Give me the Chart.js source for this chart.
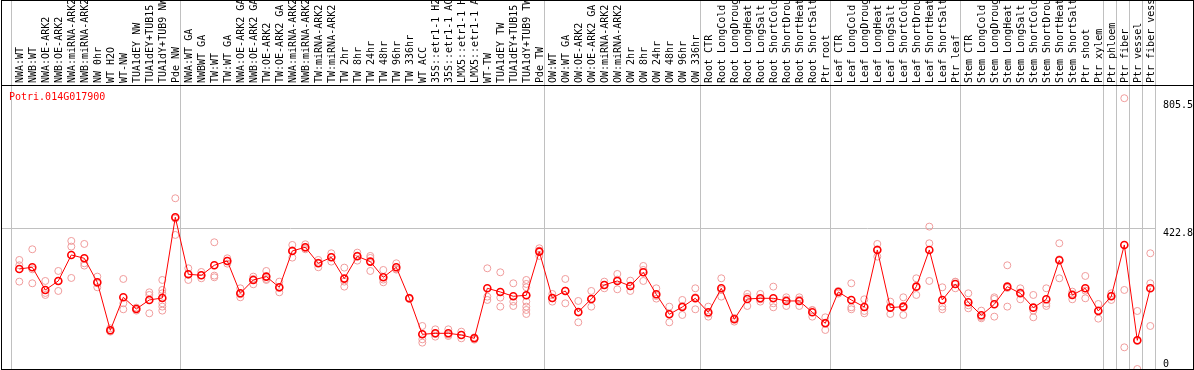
<!DOCTYPE html>
<html>
<head>
<meta charset="utf-8">
<script src="https://cdn.jsdelivr.net/npm/chart.js@4.4.1/dist/chart.umd.min.js"></script>
<style>
  html, body { margin: 0; padding: 0; background: #fff; }
  #box { position: relative; margin-left: 1px; width: 1191px; height: 368px; border: 1px solid #000; }
  #box canvas { display: block; }
  #gene { position: absolute; left: 7px; top: 90px; font: 10px "DejaVu Sans Mono", monospace; line-height: 12px; color: #ff0000; }
</style>
</head>
<body>
<div id="box">
  <canvas id="exprChart" width="1191" height="368"></canvas>
  <div id="gene">Potri.014G017900</div>
</div>
<script>
// Sample names, left to right
const categories = [
  "NWA:WT", "NWB:WT", "NWA:OE-ARK2", "NWB:OE-ARK2", "NWA:miRNA-ARK2", "NWB:miRNA-ARK2",
  "NW 0hr", "WT H2O", "WT-NW", "TUA1dEY NW", "TUA1dEY+TUB15 NW", "TUA1dY+TUB9 NW", "Pde NW",
  "NWA:WT GA", "NWBWT GA", "TW:WT", "TW:WT GA", "NWA:OE-ARK2 GA", "NWB:OE-ARK2 GA",
  "TW:OE-ARK2", "TW:OE-ARK2 GA", "NWA:miRNA-ARK2 GA", "NWB:miRNA-ARK2 GA", "TW:miRNA-ARK2",
  "TW:miRNA-ARK2 GA", "TW 2hr", "TW 8hr", "TW 24hr", "TW 48hr", "TW 96hr", "TW 336hr",
  "WT ACC", "35S::etr1-1 H2O", "35S::etr1-1 ACC", "LMX5::etr1-1 H2O", "LMX5::etr1-1 ACC",
  "WT-TW", "TUA1dEY TW", "TUA1dEY+TUB15 TW", "TUA1dY+TUB9 TW", "Pde TW",
  "OW:WT", "OW:WT GA", "OW:OE-ARK2", "OW:OE-ARK2 GA", "OW:miRNA-ARK2", "OW:miRNA-ARK2 GA",
  "OW 2hr", "OW 8hr", "OW 24hr", "OW 48hr", "OW 96hr", "OW 336hr",
  "Root CTR", "Root LongCold", "Root LongDrought", "Root LongHeat", "Root LongSalt",
  "Root ShortCold", "Root ShortDrought", "Root ShortHeat", "Root ShortSalt", "Ptr root",
  "Leaf CTR", "Leaf LongCold", "Leaf LongDrought", "Leaf LongHeat", "Leaf LongSalt",
  "Leaf ShortCold", "Leaf ShortDrought", "Leaf ShortHeat", "Leaf ShortSalt", "Ptr leaf",
  "Stem CTR", "Stem LongCold", "Stem LongDrought", "Stem LongHeat", "Stem LongSalt",
  "Stem ShortCold", "Stem ShortDrought", "Stem ShortHeat", "Stem ShortSalt", "Ptr shoot",
  "Ptr xylem", "Ptr phloem", "Ptr fiber", "Ptr vessel", "Ptr fiber vessel"
];

// Mean expression per sample
const means = [
  300, 305, 237, 264, 342, 332, 260, 116, 215, 180, 207, 213, 455,
  284, 281, 311, 324, 227, 267, 277, 245, 354, 365, 317, 335, 271, 338, 322, 275, 305, 212,
  104, 107, 107, 102, 92, 242, 231, 218, 221, 352,
  213, 234, 171, 210, 252, 264, 249, 290, 224, 164, 186, 212,
  170, 242, 149, 210, 212, 212, 204, 204, 170, 137,
  231, 207, 186, 357, 184, 187, 247, 357, 207, 255,
  200, 161, 194, 247, 227, 184, 209, 326, 222, 242, 174,
  218, 372, 86, 242
];

// Individual replicates per sample
const replicates = [
  [327, 311, 262], [359, 299, 257], [264, 222, 228], [294, 264, 234], [384, 367, 273],
  [375, 317, 310], [277, 257, 245], [122, 112, 115], [270, 197, 179], [184, 175, 181],
  [230, 222, 167], [267, 237, 227, 197, 187, 175], [512, 451, 402],
  [302, 283, 267], [291, 281, 272], [380, 280, 275], [332, 316, 324], [242, 215, 224],
  [277, 254, 270], [294, 267, 270], [262, 230, 243], [372, 334, 356], [374, 362, 359],
  [327, 305, 319], [347, 322, 336], [304, 247, 262], [349, 325, 340], [339, 294, 333],
  [297, 260, 268], [317, 300, 298], [212, 210, 214],
  [129, 104, 89, 79], [119, 97, 105], [119, 99, 103], [112, 92, 102], [95, 88, 93],
  [302, 217, 207], [290, 214, 187], [257, 202, 189], [267, 255, 245, 221, 202, 187, 177, 165],
  [362, 339, 355],
  [225, 202, 212], [270, 197, 235], [204, 140, 169], [234, 187, 209], [262, 242, 252],
  [285, 239, 268], [265, 234, 248], [309, 264, 297], [242, 211, 219], [187, 140, 165],
  [207, 162, 189], [242, 179, 215],
  [187, 157, 166], [272, 217, 237], [152, 142, 153], [225, 189, 216], [225, 202, 209],
  [247, 197, 185], [215, 189, 208], [215, 189, 208], [177, 157, 176], [155, 117, 139],
  [234, 226, 233], [257, 179, 185], [209, 174, 167], [375, 337, 359], [202, 165, 185],
  [215, 162, 184], [272, 222, 247], [427, 377, 264], [245, 187, 179], [262, 242, 261],
  [227, 182, 191], [175, 152, 156], [215, 157, 210], [311, 187, 243], [242, 209, 230],
  [222, 155, 175], [242, 189, 196], [377, 272, 329], [232, 209, 225], [279, 212, 235],
  [195, 151, 176],
  [227, 207, 220], [812, 237, 65], [174, 84, 0], [347, 257, 129]
];

// First sample index of each group (last entry closes the plot)
const groupStarts = [0, 13, 41, 53, 63, 73, 84, 85, 86, 87, 88];

// Value axis ticks
const yTicks = [0, 422.8, 805.5];
const yTickLabels = ["0", "422.8", "805.5"];

const X_MIN = -1.331;
const X_MAX = 87.438;
const Y_MAX = 851.6;
const SEP_SHIFT = 8 / 13;
const monoFont = { family: "DejaVu Sans Mono", size: 10 };

// no automatic padding around the scales
function noPadding(s) {
  s.paddingLeft = 0;
  s.paddingRight = 0;
  s.paddingTop = 0;
  s.paddingBottom = 0;
}

// keep the "0" label inside the plot bottom
const zeroLabelPlugin = {
  id: "zeroLabel",
  beforeDraw(chart) {
    chart.scales.y.getLabelItems().forEach((item) => {
      if (item.label === "0") item.options.textBaseline = "bottom";
    });
  },
};

function initExpressionChart() {
  const ctx = document.getElementById("exprChart");

  const meanPoints = means.map((v, i) => ({ x: i, y: v }));
  const repPoints = [];
  replicates.forEach((reps, i) => {
    reps.forEach((v) => repPoints.push({ x: i, y: v }));
  });

  new Chart(ctx, {
    data: {
      datasets: [
        {
          type: "line",
          data: meanPoints,
          borderColor: "#ff0000",
          borderWidth: 1,
          tension: 0,
          pointRadius: 3.5,
          pointBorderWidth: 1.6,
          pointBorderColor: "#ff0000",
          pointBackgroundColor: "rgba(0,0,0,0)",
          xAxisID: "x",
          yAxisID: "y",
        },
        {
          type: "scatter",
          data: repPoints,
          pointRadius: 3.5,
          pointBorderWidth: 1,
          pointBorderColor: "#f09c9c",
          pointBackgroundColor: "rgba(0,0,0,0)",
          xAxisID: "x",
          yAxisID: "y",
        },
      ],
    },
    options: {
      responsive: false,
      animation: false,
      devicePixelRatio: 1,
      layout: { padding: 0, autoPadding: false },
      plugins: { legend: { display: false }, tooltip: { enabled: false } },
      scales: {
        x: {
          type: "linear",
          position: "top",
          weight: 2,
          min: X_MIN,
          max: X_MAX,
          afterBuildTicks: (s) => {
            s.ticks = categories.map((c, i) => ({ value: i }));
          },
          afterFit: (s) => {
            s.height = 84;
            noPadding(s);
          },
          grid: { display: false, drawTicks: false },
          border: { display: false },
          ticks: {
            autoSkip: false,
            minRotation: 90,
            maxRotation: 90,
            padding: 2,
            labelOffset: 13,
            color: "#000",
            font: monoFont,
            callback: (v) => categories[v],
          },
        },
        sep: {
          type: "linear",
          position: "top",
          weight: 1,
          min: X_MIN,
          max: X_MAX,
          afterBuildTicks: (s) => {
            s.ticks = groupStarts.map((i) => ({ value: i - SEP_SHIFT }));
          },
          afterFit: (s) => {
            s.height = 0;
            noPadding(s);
          },
          grid: { color: "#c0c0c0", lineWidth: 1, drawTicks: true, tickLength: 84 },
          border: { display: false },
          ticks: { display: false },
        },
        frame: {
          type: "linear",
          position: "top",
          weight: 0,
          fullSize: true,
          afterFit: (s) => {
            s.height = 0;
            noPadding(s);
          },
          grid: { display: false, drawTicks: false },
          border: { display: true, color: "#000", width: 1 },
          ticks: { display: false },
        },
        y: {
          type: "linear",
          position: "right",
          min: 0,
          max: Y_MAX,
          afterBuildTicks: (s) => {
            s.ticks = yTicks.map((v) => ({ value: v }));
          },
          afterFit: (s) => {
            s.width = 37;
            noPadding(s);
          },
          grid: {
            color: (c) => (c.tick && c.tick.value === 422.8 ? "#c0c0c0" : "rgba(0,0,0,0)"),
            drawTicks: false,
          },
          border: { display: false },
          ticks: {
            align: "start",
            padding: 7,
            color: "#000",
            font: monoFont,
            callback: (v) => yTickLabels[yTicks.indexOf(v)],
          },
        },
      },
    },
    plugins: [zeroLabelPlugin],
  });
}

document.addEventListener("DOMContentLoaded", function () {
  initExpressionChart();
});
</script>
</body>
</html>
